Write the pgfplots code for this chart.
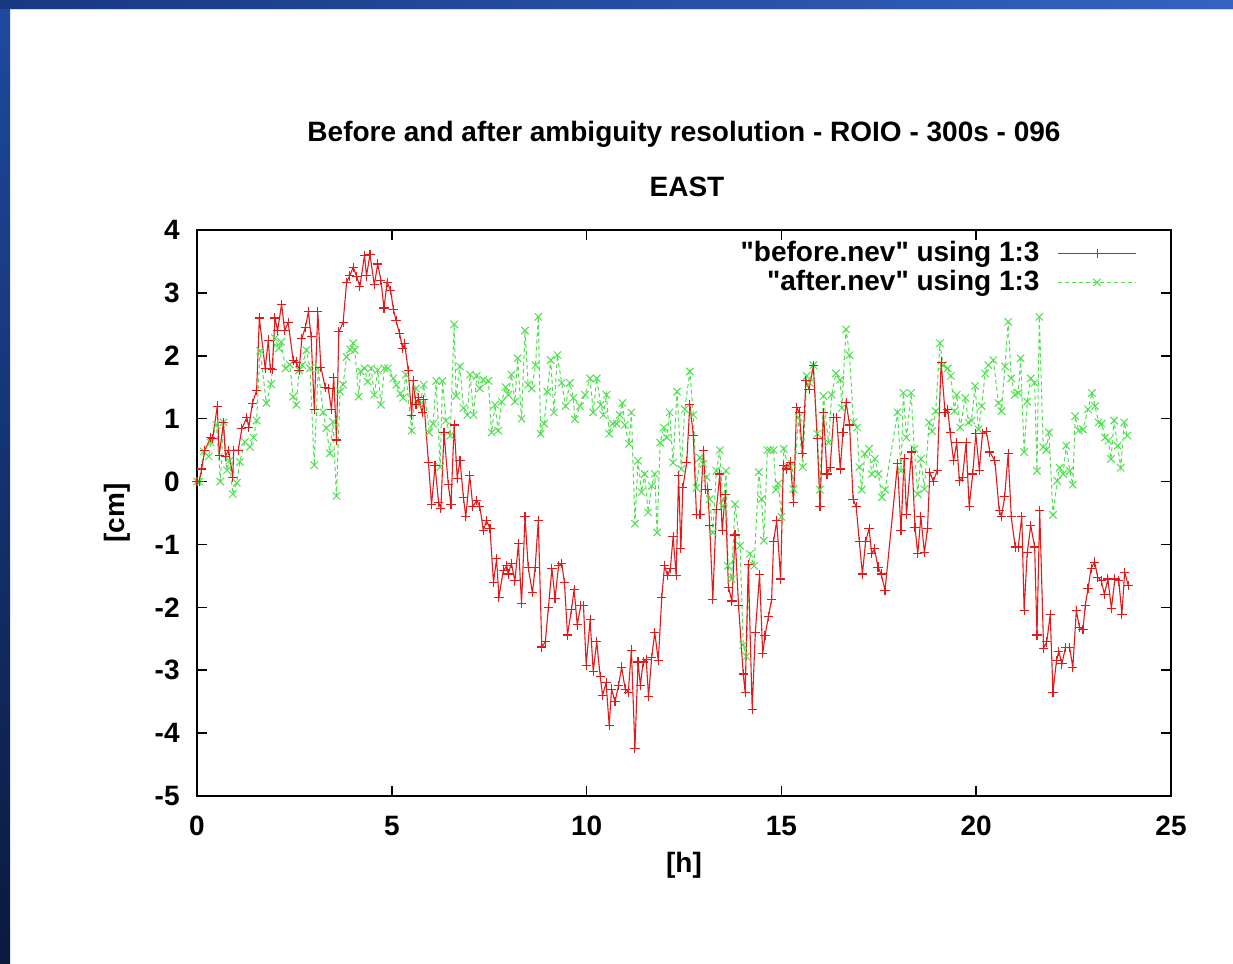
\documentclass[border=0pt]{standalone}
\usepackage{fontspec}
\setmainfont{Liberation Sans}[Ligatures=TeXOff]
\usepackage{pgfplots}
\pgfplotsset{compat=1.18}

\definecolor{beforered}{rgb}{0.9,0.1,0.1}
\definecolor{aftergreen}{rgb}{0.3,0.88,0.3}
\definecolor{slideTopL}{rgb}{0.09,0.22,0.51}
\definecolor{slideTopR}{rgb}{0.2,0.39,0.76}
\definecolor{slideSideT}{rgb}{0.12,0.29,0.63}
\definecolor{slideSideB}{rgb}{0.04,0.1,0.24}

\newcommand{\gpfont}{\fontsize{14}{17}\selectfont\bfseries}

\begin{document}
\begin{tikzpicture}
% slide background and frame
\fill[white] (0pt,0pt) rectangle (616.5pt,482pt);
\useasboundingbox (0pt,0pt) rectangle (616.5pt,482pt);
\shade[top color=slideSideT, bottom color=slideSideB] (0pt,0pt) rectangle (5pt,482pt);
\shade[left color=slideTopL, right color=slideTopR] (0pt,477.5pt) rectangle (616.5pt,482pt);
\draw[white!75!slideTopR, line width=0.4pt] (5pt,477.5pt) -- (616.5pt,477.5pt);

\begin{axis}[
  at={(98.5pt,84pt)}, anchor=south west,
  scale only axis, width=487pt, height=283pt,
  xmin=0, xmax=25, ymin=-5, ymax=4,
  xtick={0,5,10,15,20,25},
  ytick={-5,-4,-3,-2,-1,0,1,2,3,4},
  tick align=inside, major tick length=5pt,
  axis line style={black, line width=0.9pt},
  major tick style={black, line width=0.8pt},
  /pgf/number format/assume math mode=true,
  ticklabel style={font=\gpfont},
  xticklabel style={anchor=center, yshift=-15pt},
  yticklabel style={anchor=east, inner xsep=0pt, xshift=-8.5pt},
  reverse legend,
  legend plot pos=right,
  legend cell align=right,
  legend style={draw=none, fill=none, inner sep=0pt,
    at={(1,1)}, anchor=north east, xshift=-17pt, yshift=-5pt,
    font=\gpfont, column sep=9pt, row sep=1.5pt,
    nodes={inner sep=0pt, text height=10.5pt, text depth=2.5pt}},
  legend image code/.code={\draw[mark repeat=2,mark phase=2,#1]
    plot coordinates {(0pt,0pt) (19.5pt,0pt) (39pt,0pt)};},
]
\addplot[color=aftergreen, line width=0.5pt,
  dash pattern=on 2pt off 1.5pt,
  mark=x, mark size=2.6pt, mark options={solid}] coordinates {
(0.00,0.00) (0.06,0.00) (0.17,0.48) (0.30,0.40) (0.35,0.62) (0.50,0.90)
(0.60,0.00) (0.68,0.94) (0.77,0.18) (0.83,0.33) (0.92,-0.20) (1.02,-0.02)
(1.10,0.31) (1.23,0.63) (1.36,0.55) (1.45,0.70) (1.53,0.97) (1.62,2.08)
(1.78,1.25) (1.90,1.55) (2.00,2.28) (2.10,2.12) (2.16,2.22) (2.27,1.80)
(2.38,1.86) (2.47,1.35) (2.55,1.22) (2.62,1.77) (2.70,1.85) (2.81,2.09)
(2.90,1.80) (3.01,0.26) (3.11,1.80) (3.24,1.10) (3.32,0.85) (3.41,0.45)
(3.49,0.95) (3.58,-0.23) (3.67,1.43) (3.75,1.54) (3.84,1.98) (3.93,2.10)
(4.01,2.20) (4.05,2.09) (4.15,1.35) (4.20,1.75) (4.30,1.80) (4.38,1.59)
(4.47,1.80) (4.55,1.38) (4.64,1.77) (4.72,1.22) (4.81,1.80) (4.90,1.80)
(5.04,1.64) (5.12,1.54) (5.22,1.40) (5.29,1.33) (5.36,1.70) (5.51,0.81)
(5.62,1.48) (5.72,1.22) (5.82,1.54) (5.96,0.78) (6.06,0.92) (6.14,1.60)
(6.24,0.23) (6.30,1.60) (6.39,0.97) (6.50,0.73) (6.60,2.50) (6.65,1.36)
(6.75,1.83) (6.84,1.17) (6.94,1.06) (7.01,1.70) (7.10,1.06) (7.18,1.68)
(7.26,1.48) (7.35,1.62) (7.48,1.60) (7.56,0.78) (7.65,1.22) (7.73,0.81)
(7.82,1.27) (7.92,1.50) (7.99,1.38) (8.07,1.70) (8.16,1.27) (8.23,1.96)
(8.33,1.00) (8.42,2.40) (8.50,1.54) (8.59,1.48) (8.69,1.85) (8.76,2.62)
(8.82,0.76) (8.91,0.92) (8.99,1.43) (9.08,1.93) (9.16,1.10) (9.25,2.01)
(9.36,1.57) (9.46,1.20) (9.57,1.57) (9.66,1.33) (9.70,0.99) (9.83,1.20)
(9.96,1.38) (10.09,1.64) (10.17,1.10) (10.26,1.64) (10.36,1.22) (10.43,1.06)
(10.51,1.38) (10.58,0.76) (10.67,0.92) (10.77,0.92) (10.85,1.06) (10.92,1.25)
(10.98,0.90) (11.09,0.60) (11.15,1.10) (11.24,-0.67) (11.32,0.33) (11.41,-0.17)
(11.49,0.12) (11.58,-0.49) (11.67,-0.07) (11.75,0.12) (11.81,-0.81) (11.89,0.62)
(11.98,0.86) (12.06,0.70) (12.13,1.10) (12.22,0.30) (12.32,1.43) (12.43,0.20)
(12.52,1.15) (12.65,1.75) (12.74,1.06) (12.82,-0.10) (12.91,0.38) (13.00,0.28)
(13.08,0.07) (13.16,-0.28) (13.24,-0.81) (13.33,0.17) (13.42,0.50) (13.50,-0.40)
(13.58,0.17) (13.63,-1.34) (13.72,-1.55) (13.81,-0.36) (13.94,-1.02) (14.02,-2.60)
(14.10,-2.78) (14.19,-1.15) (14.30,-1.34) (14.42,0.15) (14.49,-0.28) (14.55,-0.94)
(14.64,0.50) (14.71,0.50) (14.80,0.50) (14.86,-0.13) (14.92,-0.03) (15.00,-0.56)
(15.06,0.52) (15.18,0.23) (15.27,0.28) (15.31,-0.12) (15.44,1.02) (15.55,0.23)
(15.65,1.68) (15.73,1.57) (15.82,1.85) (15.92,0.76) (15.99,-0.13) (16.08,1.36)
(16.21,0.62) (16.29,1.38) (16.40,1.72) (16.51,1.62) (16.55,1.17) (16.66,2.42)
(16.75,2.01) (16.85,0.94) (16.94,0.86) (17.00,0.23) (17.06,-0.13) (17.14,0.44)
(17.25,0.52) (17.32,0.12) (17.40,0.36) (17.49,0.12) (17.58,-0.25) (17.66,-0.13)
(17.98,1.10) (18.07,0.17) (18.13,1.41) (18.21,0.70) (18.33,1.41) (18.41,0.52)
(18.50,-0.20) (18.58,0.36) (18.67,-0.12) (18.79,0.94) (18.87,0.80) (18.96,1.12)
(19.07,2.20) (19.15,1.85) (19.27,1.80) (19.35,1.68) (19.44,1.12) (19.50,1.38)
(19.59,0.86) (19.72,1.33) (19.80,0.94) (19.88,0.97) (19.97,1.52) (20.06,0.83)
(20.14,1.20) (20.23,1.72) (20.31,1.85) (20.44,1.93) (20.57,1.25) (20.65,1.12)
(20.74,1.83) (20.82,2.54) (20.90,1.64) (20.99,1.38) (21.08,1.41) (21.14,1.96)
(21.23,0.47) (21.31,1.27) (21.40,1.64) (21.50,1.57) (21.56,0.17) (21.62,2.62)
(21.72,0.55) (21.80,0.50) (21.87,0.78) (21.97,-0.53) (22.08,0.01) (22.14,0.22)
(22.23,0.12) (22.31,0.57) (22.40,0.17) (22.48,-0.05) (22.54,1.04) (22.63,0.81)
(22.74,0.83) (22.87,1.15) (22.97,1.41) (23.05,1.20) (23.14,0.94) (23.22,0.92)
(23.31,0.70) (23.39,0.65) (23.46,0.36) (23.54,0.97) (23.63,0.57) (23.71,0.22)
(23.80,0.94) (23.88,0.73)
};
\addlegendentry{"after.nev" using 1:3}
\addplot[color=beforered, line width=0.55pt,
  mark=+, mark size=2.3pt, mark options={solid}] coordinates {
(0.00,0.00) (0.06,0.00) (0.12,0.20) (0.20,0.50) (0.35,0.70) (0.40,0.68)
(0.52,1.20) (0.57,0.42) (0.68,0.94) (0.73,0.40) (0.81,0.50) (0.92,0.07)
(0.94,0.50) (1.06,0.50) (1.15,0.84) (1.28,1.02) (1.33,0.86) (1.42,1.24)
(1.53,1.45) (1.60,2.60) (1.75,1.80) (1.83,2.25) (1.88,1.80) (1.93,1.78)
(2.00,2.60) (2.07,2.40) (2.17,2.82) (2.25,2.40) (2.34,2.53) (2.47,1.92)
(2.55,1.90) (2.62,1.77) (2.69,2.27) (2.78,2.45) (2.86,2.70) (2.93,2.30)
(3.01,1.15) (3.10,2.70) (3.18,1.82) (3.29,1.50) (3.37,1.48) (3.45,1.15)
(3.51,1.66) (3.58,0.66) (3.64,2.38) (3.75,2.53) (3.84,3.17) (3.92,3.27)
(4.01,3.41) (4.10,3.26) (4.18,3.10) (4.30,3.60) (4.35,3.27) (4.44,3.61)
(4.55,3.13) (4.64,3.46) (4.72,3.20) (4.80,2.76) (4.88,3.17) (4.97,3.04)
(5.04,2.74) (5.11,2.56) (5.20,2.35) (5.28,2.11) (5.33,2.20) (5.42,1.77)
(5.51,1.05) (5.55,1.60) (5.62,1.22) (5.68,1.33) (5.78,1.10) (5.82,1.30)
(5.94,0.31) (6.02,-0.37) (6.11,0.25) (6.20,-0.33) (6.26,-0.43) (6.34,0.78)
(6.45,-0.05) (6.52,-0.37) (6.60,0.90) (6.68,0.05) (6.75,0.34) (6.84,-0.26)
(6.90,-0.56) (7.00,0.10) (7.08,-0.40) (7.18,-0.30) (7.26,-0.40) (7.35,-0.78)
(7.43,-0.62) (7.52,-0.75) (7.61,-1.60) (7.69,-1.23) (7.75,-1.84) (7.86,-1.42)
(7.95,-1.34) (7.99,-1.47) (8.07,-1.30) (8.16,-1.58) (8.25,-0.99) (8.33,-1.94)
(8.42,-0.56) (8.50,-1.36) (8.61,-1.77) (8.68,-1.36) (8.76,-0.62) (8.85,-2.63)
(8.94,-2.55) (9.02,-2.00) (9.11,-1.38) (9.19,-1.86) (9.28,-1.34) (9.36,-1.30)
(9.43,-1.60) (9.51,-2.44) (9.61,-2.04) (9.68,-1.72) (9.76,-2.28) (9.85,-1.97)
(9.92,-1.97) (9.99,-2.92) (10.09,-2.20) (10.17,-3.02) (10.26,-2.55) (10.35,-3.10)
(10.41,-3.40) (10.50,-3.20) (10.58,-3.88) (10.64,-3.30) (10.73,-3.50) (10.82,-3.24)
(10.90,-2.95) (10.99,-3.30) (11.07,-3.35) (11.15,-2.68) (11.24,-4.25) (11.32,-2.87)
(11.38,-3.24) (11.45,-2.87) (11.53,-2.83) (11.59,-3.42) (11.67,-2.80) (11.75,-2.40)
(11.84,-2.85) (11.93,-1.84) (12.00,-1.34) (12.08,-1.50) (12.15,-1.38) (12.22,-0.88)
(12.30,-1.50) (12.36,0.10) (12.42,-1.07) (12.47,-0.10) (12.57,0.31) (12.65,1.23)
(12.74,0.73) (12.82,-0.53) (12.91,-0.53) (13.00,0.50) (13.05,-0.13) (13.11,-0.13)
(13.16,-0.70) (13.24,-1.87) (13.33,-0.44) (13.42,0.12) (13.48,-0.78) (13.56,-0.20)
(13.64,-1.68) (13.73,-1.90) (13.81,-0.85) (13.90,-1.97) (14.02,-3.06) (14.07,-3.35)
(14.15,-1.32) (14.25,-3.62) (14.33,-2.40) (14.44,-1.48) (14.52,-2.74) (14.58,-2.45)
(14.67,-2.14) (14.75,-1.87) (14.80,-0.95) (14.88,-0.62) (14.98,-1.55) (15.05,0.26)
(15.14,0.20) (15.23,0.31) (15.31,-0.33) (15.39,1.18) (15.46,1.10) (15.54,0.44)
(15.63,1.60) (15.71,1.47) (15.82,1.84) (15.92,0.68) (15.99,-0.40) (16.08,1.10)
(16.17,0.12) (16.25,0.23) (16.34,1.02) (16.42,1.02) (16.51,0.20) (16.58,0.78)
(16.66,1.26) (16.75,0.90) (16.84,-0.28) (16.92,-0.40) (17.00,-0.96) (17.08,-1.47)
(17.16,-0.96) (17.25,-0.75) (17.32,-1.15) (17.39,-1.07) (17.48,-1.36) (17.56,-1.47)
(17.66,-1.73) (17.98,0.28) (18.07,-0.78) (18.15,0.36) (18.21,-0.53) (18.34,0.47)
(18.43,-0.73) (18.50,-1.15) (18.58,-0.56) (18.67,-1.13) (18.75,-0.75) (18.81,0.15)
(18.90,0.00) (19.00,0.18) (19.10,1.90) (19.20,1.10) (19.27,1.15) (19.33,0.78)
(19.42,0.33) (19.50,0.62) (19.57,0.01) (19.65,0.07) (19.74,0.62) (19.82,-0.40)
(19.91,0.12) (19.99,0.76) (20.08,0.18) (20.16,0.76) (20.26,0.80) (20.35,0.47)
(20.48,0.33) (20.59,-0.46) (20.65,-0.56) (20.73,-0.24) (20.82,0.44) (20.90,-0.56)
(21.00,-1.04) (21.08,-1.04) (21.17,-0.56) (21.23,-2.05) (21.31,-1.13) (21.40,-0.70)
(21.50,-1.04) (21.56,-2.44) (21.63,-0.46) (21.73,-2.65) (21.81,-2.55) (21.90,-2.12)
(21.97,-3.35) (22.06,-2.85) (22.12,-2.70) (22.20,-2.90) (22.29,-2.64) (22.40,-2.64)
(22.48,-2.96) (22.57,-2.05) (22.65,-2.32) (22.74,-2.35) (22.80,-1.97) (22.87,-1.70)
(22.95,-1.38) (23.04,-1.28) (23.12,-1.52) (23.21,-1.58) (23.29,-1.79) (23.38,-1.55)
(23.47,-2.02) (23.56,-1.55) (23.66,-1.58) (23.74,-2.11) (23.81,-1.44) (23.90,-1.65)
};
\addlegendentry{"before.nev" using 1:3}
\end{axis}

\node[font=\gpfont] at (342pt,415pt) {Before and after ambiguity resolution - ROIO - 300s - 096};
\node[font=\gpfont] at (343.5pt,388.5pt) {EAST};
\node[font=\gpfont] at (342pt,49.5pt) {[h]};
\node[font=\gpfont, rotate=90] at (58.5pt,225.5pt) {[cm]};
\end{tikzpicture}
\end{document}
